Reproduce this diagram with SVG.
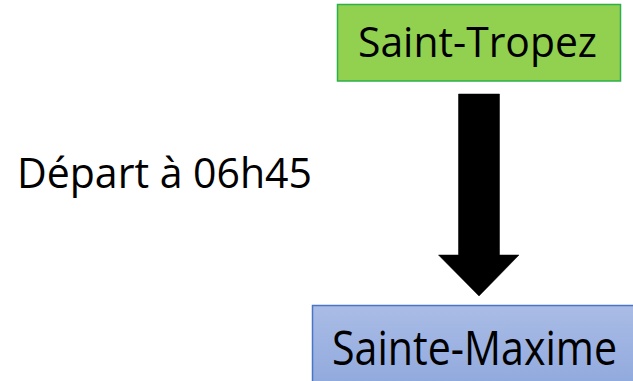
<svg xmlns="http://www.w3.org/2000/svg" width="633" height="381" viewBox="0 0 633 381">
<style>
.t{font-family:"Open Sans","Liberation Sans",sans-serif;fill:#000}
</style>
<defs>
<linearGradient id="blue" x1="0" y1="0" x2="0" y2="1">
<stop offset="0" stop-color="#AABCE6"/>
<stop offset="1" stop-color="#8DA7DC"/>
</linearGradient>
</defs>
<rect width="633" height="381" fill="#fff"/>
<g id="label-depart">
<text class="t" x="17" y="188" font-size="42" textLength="295" lengthAdjust="spacingAndGlyphs">Départ à 06h45</text>
</g>
<g id="node-saint-tropez">
<rect x="337.5" y="4.5" width="283" height="76.5" fill="#92D050" stroke="#2DB04A" stroke-width="1.5"/>
<text class="t" x="358" y="57" font-size="42" textLength="239" lengthAdjust="spacingAndGlyphs">Saint-Tropez</text>
</g>
<g id="node-sainte-maxime">
<rect x="312.5" y="305.5" width="330" height="90" fill="url(#blue)" stroke="#4A74C4" stroke-width="1.5"/>
<text class="t" x="332" y="365" font-size="47" textLength="285" lengthAdjust="spacingAndGlyphs">Sainte-Maxime</text>
</g>
<g id="connectors">
<polygon points="458.5,94 499.5,94 499.5,255 519,255 479,296 438.5,255 458.5,255" fill="#000" stroke="#000" stroke-width="0.5"/>
</g>
</svg>
